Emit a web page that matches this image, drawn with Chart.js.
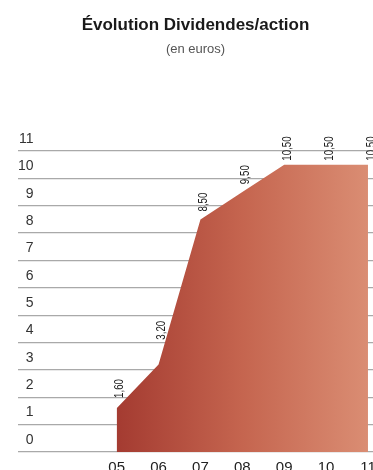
<!DOCTYPE html>
<html lang="fr">
<head>
<meta charset="utf-8">
<title>Évolution Dividendes/action</title>
<script src="https://cdn.jsdelivr.net/npm/chart.js@4"></script>
<style>
  html, body { margin: 0; padding: 0; background: #fff; overflow: hidden; }
  #wrap { width: 373px; height: 470px; position: relative; }
</style>
</head>
<body>
<div id="wrap"><canvas id="dividendChart"></canvas></div>
<script>
// Dividend per share, by year (euros)
const years = [5, 6, 7, 8, 9, 10, 11];
const dividends = [1.6, 3.2, 8.5, 9.5, 10.5, 10.5, 10.5];
const valueLabels = ['1,60', '3,20', '8,50', '9,50', '10,50', '10,50', '10,50'];

const sansFont = "'Liberation Sans', Arial, sans-serif";

document.addEventListener('DOMContentLoaded', function () {
    const ctx = document.getElementById('dividendChart').getContext('2d');

    // left-to-right fill gradient, dark red to salmon
    function areaGradient(context) {
        const area = context.chart.chartArea;
        if (!area) return '#b04a3c';
        const xs = context.chart.scales.x;
        const g = context.chart.ctx.createLinearGradient(xs.getPixelForValue(years[0]), 0, xs.getPixelForValue(years[years.length - 1]), 0);
        g.addColorStop(0, '#a43b31');
        g.addColorStop(0.5, '#c5654f');
        g.addColorStop(1, '#da8d73');
        return g;
    }

    // vertical value labels sitting just above the line (narrowed text)
    const valueLabelPlugin = {
        id: 'valueLabels',
        afterDatasetsDraw(chart) {
            const pts = chart.getDatasetMeta(0).data;
            const c = chart.ctx;
            c.save();
            c.font = '13.5px ' + sansFont;
            c.fillStyle = '#1a1a1a';
            c.textAlign = 'left';
            c.textBaseline = 'middle';
            pts.forEach((p, i) => {
                let top = p.y;
                const next = pts[i + 1];
                if (next) {
                    const t = 6 / (next.x - p.x);
                    top = Math.min(top, p.y + (next.y - p.y) * t);
                }
                c.save();
                c.translate(p.x + 3, top - 4);
                c.rotate(-Math.PI / 2);
                c.scale(0.72, 1);
                c.fillText(valueLabels[i], 0, 0);
                c.restore();
            });
            c.restore();
        }
    };

    const data = {
        datasets: [{
            data: years.map((y, i) => ({ x: y, y: dividends[i] })),
            fill: 'origin',
            backgroundColor: areaGradient,
            borderWidth: 0,
            pointRadius: 0,
            tension: 0
        }]
    };

    const config = {
        type: 'line',
        data: data,
        options: {
            responsive: true,
            maintainAspectRatio: false,
            animation: false,
            layout: {
                padding: { left: 18, right: 0, top: 0, bottom: 0 }
            },
            scales: {
                x: {
                    type: 'linear',
                    min: 2.644,
                    max: 11.12,
                    grid: { display: false, drawTicks: false },
                    border: { display: false },
                    afterBuildTicks: scale => { scale.ticks = years.map(v => ({ value: v })); },
                    afterFit: scale => {
                        scale.height = 18;
                        scale.paddingLeft = 0;
                        scale.paddingRight = 0;
                    },
                    ticks: {
                        autoSkip: false,
                        maxRotation: 0,
                        padding: 7,
                        color: '#222',
                        font: { family: sansFont, size: 15 },
                        callback: v => String(v).padStart(2, '0')
                    }
                },
                y: {
                    min: 0,
                    max: 11,
                    grid: { color: '#a9a9a9', lineWidth: 1.3, drawTicks: false },
                    border: { display: false },
                    ticks: {
                        stepSize: 1,
                        mirror: true,
                        crossAlign: 'far',
                        padding: 0,
                        labelOffset: -12,
                        color: '#333',
                        font: { family: sansFont, size: 14 }
                    }
                }
            },
            plugins: {
                legend: { display: false },
                tooltip: { enabled: false },
                title: {
                    display: true,
                    text: 'Évolution Dividendes/action',
                    color: '#1a1a1a',
                    font: { family: sansFont, size: 17, weight: 'bold' },
                    padding: { top: 15, bottom: 2 }
                },
                subtitle: {
                    display: true,
                    text: '(en euros)',
                    color: '#555',
                    font: { family: sansFont, size: 13 },
                    padding: { top: 4, bottom: 94 }
                }
            }
        },
        plugins: [valueLabelPlugin]
    };

    new Chart(ctx, config);
});
</script>
</body>
</html>
